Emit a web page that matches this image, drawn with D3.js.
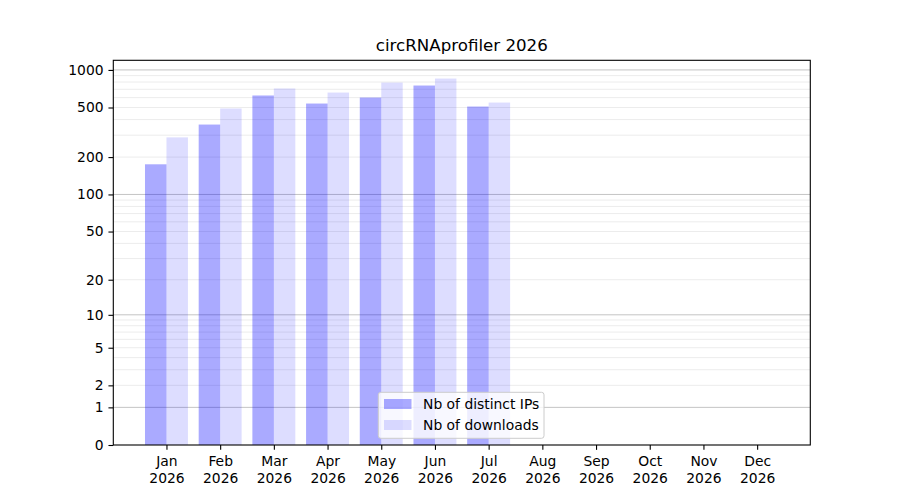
<!DOCTYPE html>
<html>
<head>
<meta charset="utf-8">
<script src="https://cdn.jsdelivr.net/npm/d3@7"></script>
<style>
  body { margin: 0; background: #fff; }
  svg { font-family: "DejaVu Sans", sans-serif; }
</style>
</head>
<body>
<script>
// data
var months = ['Jan', 'Feb', 'Mar', 'Apr', 'May', 'Jun', 'Jul', 'Aug', 'Sep', 'Oct', 'Nov', 'Dec'];
var year = '2026';
var ips = [175, 365, 624, 538, 601, 750, 509];
var downloads = [288, 491, 710, 659, 792, 853, 548];
var yTicks = [0, 1, 2, 5, 10, 20, 50, 100, 200, 500, 1000];
var majorGrid = [1, 10, 100, 1000];
var seriesNames = ['Nb of distinct IPs', 'Nb of downloads'];

var w = 900, h = 500;
// plot area (window.top is reserved, so prefixed names)
var pLeft = 113.3, pRight = 810.3, pTop = 60.3, pBottom = 445;
var fs = 13.89, tick = 4.86;

var svg = d3.select('body').append('svg')
  .attr('width', w)
  .attr('height', h);

var x = d3.scaleLinear().domain([-0.99, 11.99]).range([pLeft, pRight]);
var y = d3.scaleSymlog().constant(1)
  .domain([0, d3.max(downloads) * 1.4])
  .range([pBottom, pTop]);

// minor grid lines 2..9 in each decade
var minorGrid = [];
[1, 10, 100].forEach(function(d) {
  for (var k = 2; k <= 9; k++) minorGrid.push(d * k);
});

svg.append('g').selectAll('line')
  .data(minorGrid)
  .enter().append('line')
  .attr('x1', pLeft).attr('x2', pRight)
  .attr('y1', function(d) { return y(d); })
  .attr('y2', function(d) { return y(d); })
  .attr('stroke', '#ececec')
  .attr('stroke-width', 1);

svg.append('g').selectAll('line')
  .data(majorGrid)
  .enter().append('line')
  .attr('x1', pLeft).attr('x2', pRight)
  .attr('y1', function(d) { return y(d); })
  .attr('y2', function(d) { return y(d); })
  .attr('stroke', '#c4c4c4')
  .attr('stroke-width', 1);

// bars
svg.append('g').selectAll('rect')
  .data(ips)
  .enter().append('rect')
  .attr('x', function(d, i) { return x(i - 0.4); })
  .attr('width', x(0.4) - x(0))
  .attr('y', function(d) { return y(d); })
  .attr('height', function(d) { return pBottom - y(d); })
  .attr('fill', 'blue')
  .attr('fill-opacity', 0.333);

svg.append('g').selectAll('rect')
  .data(downloads)
  .enter().append('rect')
  .attr('x', function(d, i) { return x(i); })
  .attr('width', x(0.4) - x(0))
  .attr('y', function(d) { return y(d); })
  .attr('height', function(d) { return pBottom - y(d); })
  .attr('fill', 'blue')
  .attr('fill-opacity', 0.133);

// axes
var yAxis = svg.append('g')
  .attr('transform', 'translate(' + pLeft + ',0)')
  .call(d3.axisLeft(y).tickValues(yTicks).tickFormat(d3.format('d'))
    .tickSize(tick).tickPadding(tick));
yAxis.select('.domain').remove();
yAxis.selectAll('text').attr('font-size', fs + 'px').attr('fill', '#000')
  .attr('font-family', 'DejaVu Sans');
yAxis.selectAll('line').attr('stroke', '#000').attr('stroke-width', 1.1);

var xAxis = svg.append('g')
  .attr('transform', 'translate(0,' + pBottom + ')')
  .call(d3.axisBottom(x).tickValues(d3.range(months.length))
    .tickFormat(function(i) { return months[i]; })
    .tickSize(tick).tickPadding(tick));
xAxis.select('.domain').remove();
xAxis.selectAll('line').attr('stroke', '#000').attr('stroke-width', 1.1);
xAxis.selectAll('text')
  .attr('font-size', fs + 'px').attr('fill', '#000')
  .attr('font-family', 'DejaVu Sans')
  .attr('dy', null).attr('y', 0)
  .each(function(i) {
    var t = d3.select(this);
    t.text(null);
    t.append('tspan').attr('x', 0).attr('y', 21).text(months[i]);
    t.append('tspan').attr('x', 0).attr('y', 37.5).text(year);
  });

// frame
svg.append('rect')
  .attr('x', pLeft).attr('y', pTop)
  .attr('width', pRight - pLeft).attr('height', pBottom - pTop)
  .attr('fill', 'none')
  .attr('stroke', '#000')
  .attr('stroke-width', 1.1);

// title
svg.append('text')
  .attr('x', (pLeft + pRight) / 2)
  .attr('y', 51)
  .attr('text-anchor', 'middle')
  .attr('font-size', '16.67px')
  .attr('fill', '#000')
  .text('circRNAprofiler ' + year);

// legend, lower center
var lg = svg.append('g');
lg.append('rect')
  .attr('x', 378.3).attr('y', 392.3)
  .attr('width', 165.7).attr('height', 46)
  .attr('rx', 2.5)
  .attr('fill', '#fff').attr('fill-opacity', 0.8)
  .attr('stroke', '#cccccc').attr('stroke-width', 1);

var legendOpacity = [0.333, 0.133];
seriesNames.forEach(function(name, i) {
  lg.append('rect')
    .attr('x', 384).attr('y', 399 + i * 21)
    .attr('width', 27.5).attr('height', 10)
    .attr('fill', 'blue').attr('fill-opacity', legendOpacity[i]);
  lg.append('text')
    .attr('x', 423)
    .attr('y', 409 + i * 21)
    .attr('font-size', fs + 'px')
    .attr('fill', '#000')
    .text(name);
});
</script>
</body>
</html>
